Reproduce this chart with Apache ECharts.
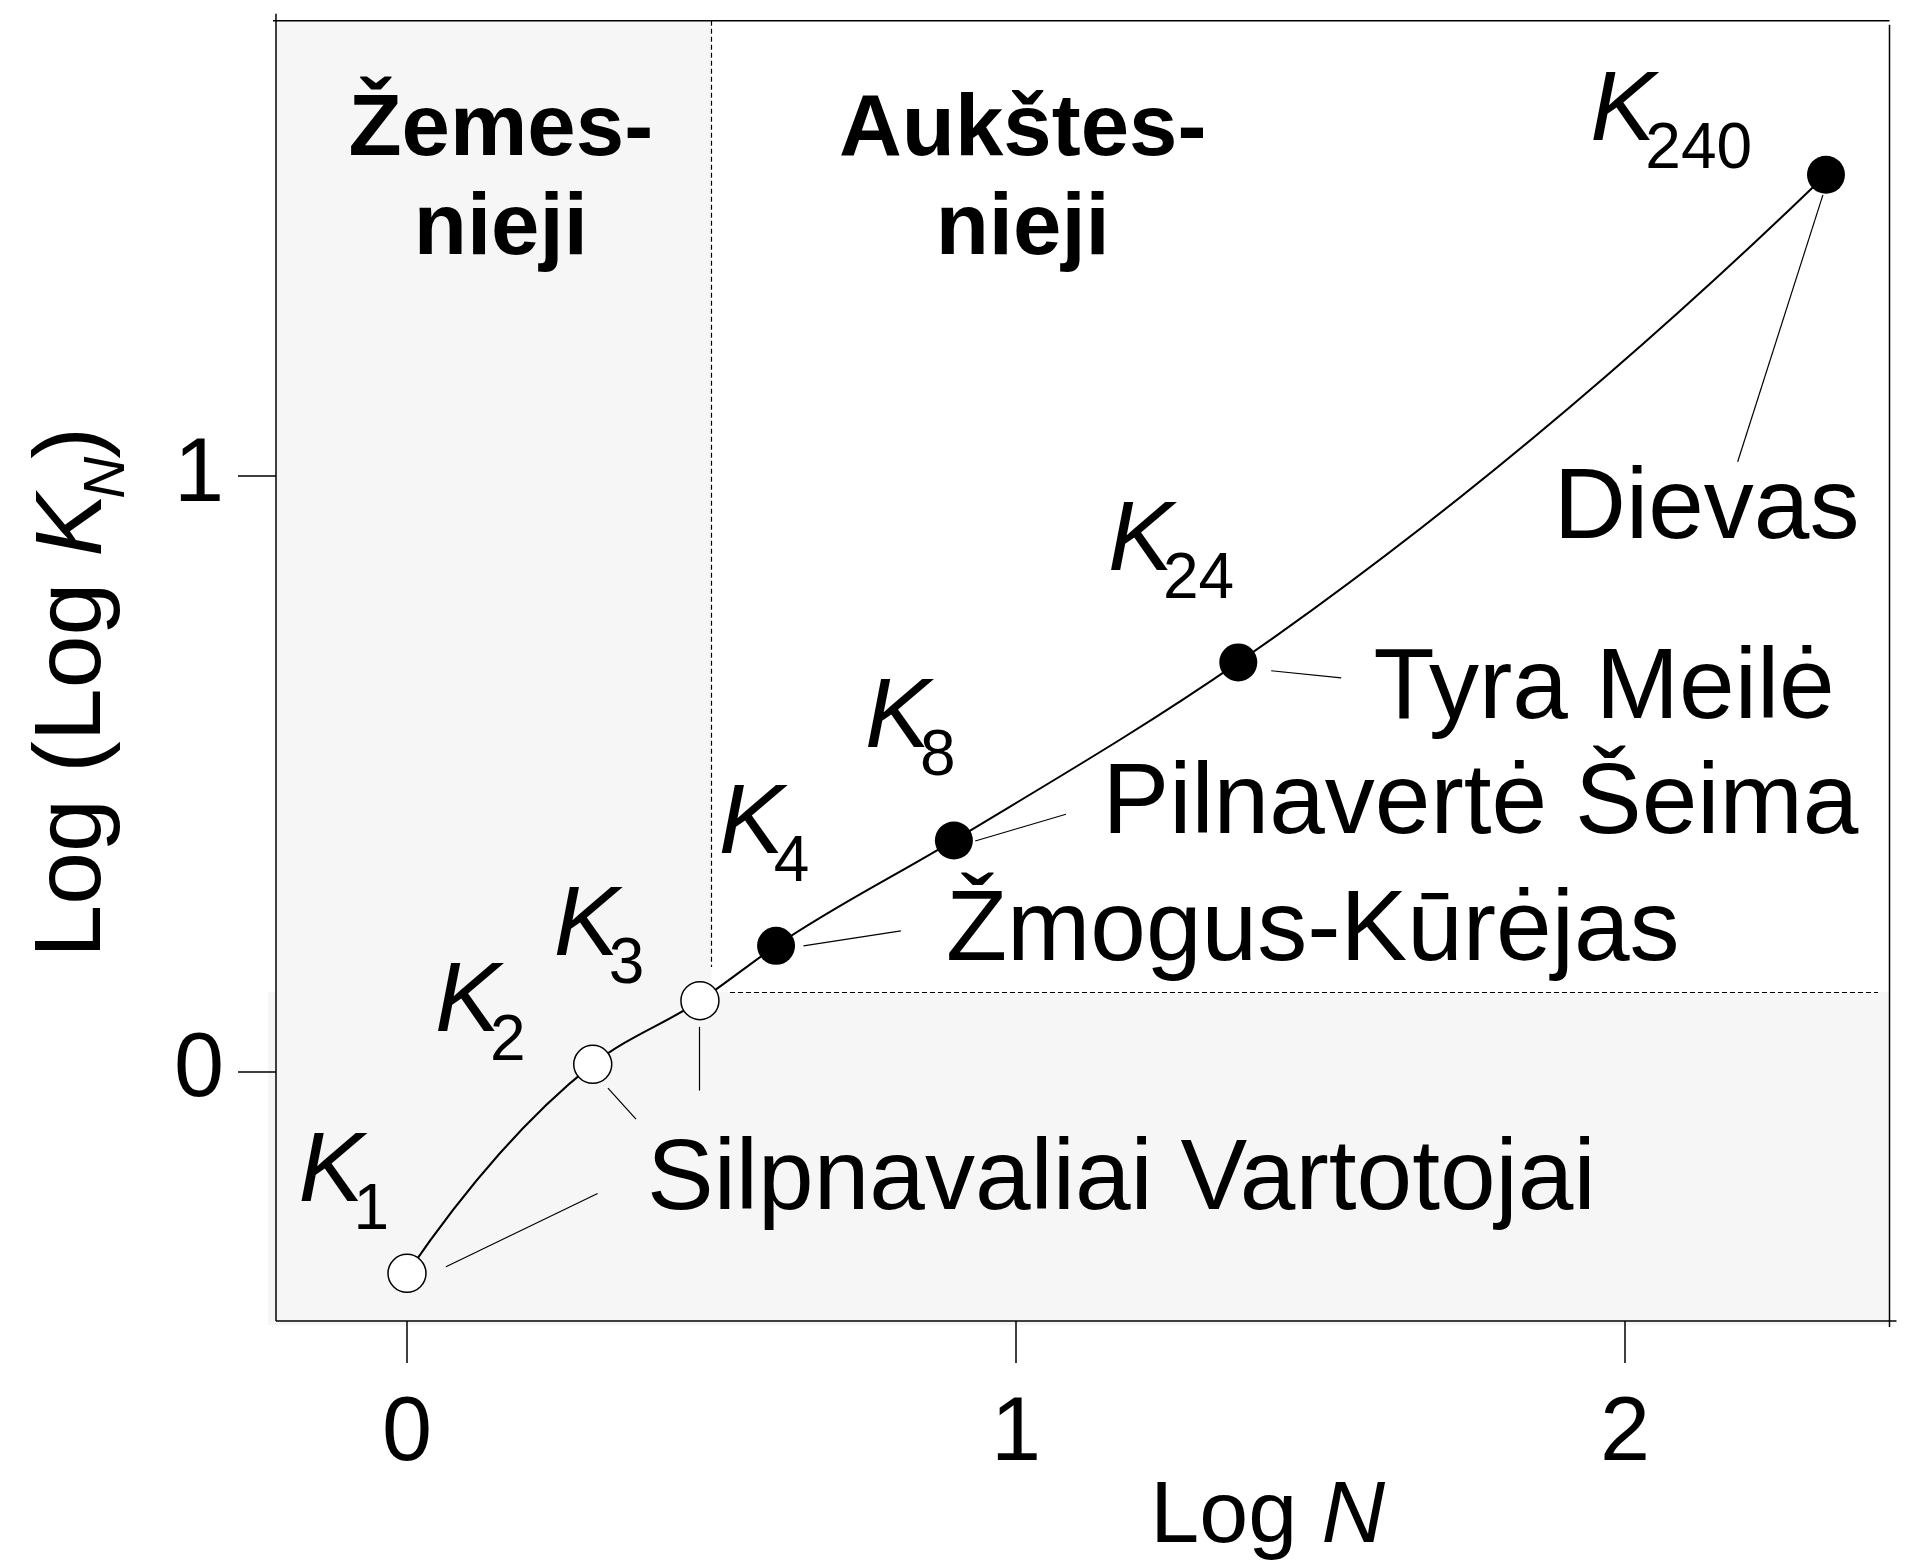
<!DOCTYPE html>
<html>
<head>
<meta charset="utf-8">
<script src="https://cdn.jsdelivr.net/npm/echarts@6/dist/echarts.min.js"></script>
<style>
  html, body { margin: 0; padding: 0; background: #fff; }
  #chart { width: 1911px; height: 1562px; }
</style>
</head>
<body>
<div id="chart"></div>
<script>
// ---- data -------------------------------------------------------------
// level index N of each K_N
const levelIndex = ['1', '2', '3', '4', '8', '24', '240'];
// Log N
const levelX = [0, 0.305, 0.481, 0.606, 0.898, 1.365, 2.330];
// Log (Log K_N)
const levelY = [-0.339, 0.012, 0.119, 0.211, 0.388, 0.687, 1.506];
// the first levels are drawn as hollow markers
const hollowCount = 3;

const xTicks = [0, 1, 2];
const yTicks = [0, 1];
const xRange = [-0.2151, 2.4343];
const yRange = [-0.4190, 1.7646];

// boundary between lower and higher levels
const splitX = 0.5;
const splitY = 0.133;

// group names, and which group each pointer line belongs to
const groupNames = ['Silpnavaliai Vartotojai', 'Žmogus-Kūrėjas', 'Pilnavertė Šeima', 'Tyra Meilė', 'Dievas'];
const pointerGroup = [0, 0, 0, 1, 2, 3, 4];

// annotation anchors, in axis units
const kLabelAt = [[-0.178, -0.229], [0.046, 0.056], [0.241, 0.185], [0.512, 0.356], [0.752, 0.534], [1.151, 0.831], [1.943, 1.553]];
const groupNameAt = [[0.394, -0.242], [0.885, 0.176], [1.142, 0.389], [1.587, 0.582], [1.883, 0.884]];
const pointerFrom = [[0.064, -0.328], [0.330, -0.028], [0.480, 0.075], [0.651, 0.211], [0.933, 0.387], [1.419, 0.673], [2.325, 1.472]];
const pointerTo = [[0.313, -0.205], [0.376, -0.080], [0.480, -0.032], [0.811, 0.236], [1.082, 0.432], [1.534, 0.661], [2.185, 1.024]];
const regionTitles = [['Žemes-', 'nieji'], ['Aukštes-', 'nieji']];
const regionTitleX = [0.154, 1.011];
const regionTitleLineY = [1.528, 1.363];
const xNameAt = [1.2205, -0.8007];
const yNameAt = [-0.4926, 0.1911];

// ---- curve tangents (three-point slopes, parabolic ends) ---------------
const curveSlopes = (function () {
  const n = levelX.length, h = [], s = [], d = [];
  for (let i = 0; i < n - 1; i++) {
    h[i] = levelX[i + 1] - levelX[i];
    s[i] = (levelY[i + 1] - levelY[i]) / h[i];
  }
  for (let i = 1; i < n - 1; i++) {
    d[i] = (h[i] * s[i - 1] + h[i - 1] * s[i]) / (h[i - 1] + h[i]);
  }
  d[0] = 2 * s[0] - d[1];
  d[n - 1] = 2 * s[n - 2] - d[n - 2];
  return d;
})();

// ---- chart ------------------------------------------------------------
const FONT = '"Liberation Sans", Arial, Helvetica, sans-serif';
const INK = '#000';
const SHADE = '#f6f6f6';

const pairs = levelX.map((x, i) => [x, levelY[i]]);

const points = pairs.map((v, i) => ({
  value: v,
  itemStyle: i < hollowCount
    ? { color: '#fff', borderColor: INK, borderWidth: 1.5, opacity: 1 }
    : { color: INK, borderColor: INK, borderWidth: 0, opacity: 1 }
}));

const pointerLines = pointerFrom.map((p, i) => [
  { coord: p, lineStyle: { color: INK, width: 1.2, type: 'solid', opacity: 1 } },
  { coord: pointerTo[i] }
]);

const guideLines = [
  [{ coord: [splitX, yRange[1]], lineStyle: { color: INK, width: 1.2, type: [5, 3], opacity: 1 } }, { coord: [splitX, 0.1755] }],
  [{ coord: [0.5304, splitY], lineStyle: { color: INK, width: 1.2, type: [5, 3], opacity: 1 } }, { coord: [2.4154, splitY] }]
];

// one cubic segment from each point to the next
function renderSegment(params, api) {
  const i = params.dataIndex;
  if (i >= levelX.length - 1) return { type: 'group', children: [] };
  const x0 = api.value(0), y0 = api.value(1);
  const x1 = levelX[i + 1], y1 = levelY[i + 1];
  const h = x1 - x0;
  const p0 = api.coord([x0, y0]);
  const p1 = api.coord([x1, y1]);
  const c0 = api.coord([x0 + h / 3, y0 + curveSlopes[i] * h / 3]);
  const c1 = api.coord([x1 - h / 3, y1 - curveSlopes[i + 1] * h / 3]);
  return {
    type: 'bezierCurve',
    shape: { x1: p0[0], y1: p0[1], x2: p1[0], y2: p1[1], cpx1: c0[0], cpy1: c0[1], cpx2: c1[0], cpy2: c1[1] },
    style: { stroke: INK, lineWidth: 2, fill: null }
  };
}

const option = {
  animation: false,
  backgroundColor: '#fff',
  grid: { left: 276, top: 20.7, right: 21.5, bottom: 241, containLabel: false, outerBoundsMode: 'none' },
  xAxis: {
    type: 'value', min: xRange[0], max: xRange[1],
    axisLine: { show: false, onZero: false },
    splitLine: { show: false },
    axisTick: { show: true, length: 42, customValues: xTicks, lineStyle: { color: INK, width: 1.5 } },
    axisLabel: { customValues: xTicks, fontSize: 90, fontFamily: FONT, color: INK, margin: 69 }
  },
  yAxis: {
    type: 'value', min: yRange[0], max: yRange[1],
    axisLine: { show: false, onZero: false },
    splitLine: { show: false },
    axisTick: { show: true, length: 38, customValues: yTicks, lineStyle: { color: INK, width: 1.5 } },
    axisLabel: { customValues: yTicks, fontSize: 90, fontFamily: FONT, color: INK, margin: 52, padding: [15, 0, 0, 0] }
  },
  series: [
    {
      type: 'custom',
      data: pairs,
      encode: { x: 0, y: 1 },
      renderItem: renderSegment,
      silent: true,
      z: 4
    },
    {
      type: 'scatter',
      data: points,
      symbol: 'circle',
      symbolSize: 38,
      itemStyle: { opacity: 1 },
      emphasis: { disabled: true },
      silent: true,
      z: 5,
      markLine: {
        silent: true,
        symbol: ['none', 'none'],
        label: { show: false },
        emphasis: { disabled: true },
        data: pointerLines.concat(guideLines)
      }
    }
  ]
};

const chart = echarts.init(document.getElementById('chart'));
chart.setOption(option);

// ---- annotations placed through the axes ------------------------------
const toPx = p => chart.convertToPixel({ gridIndex: 0 }, p);
const MID = 0.3465; // distance from 'middle' to alphabetic baseline, in em

function font(size, italic, bold) {
  return (italic ? 'italic ' : '') + (bold ? 'bold ' : '') + size + 'px ' + FONT;
}
// text whose baseline sits at (x, baseline)
function word(x, baseline, text, size, opt) {
  opt = opt || {};
  return {
    type: 'text', x: x, y: baseline - MID * size, z: 20, silent: true,
    style: {
      text: text, font: font(size, opt.italic, opt.bold), fill: INK,
      textAlign: opt.align || 'left', textVerticalAlign: 'middle'
    }
  };
}
function seg(x1, y1, x2, y2) {
  return { type: 'line', z: 15, silent: true, shape: { x1: x1, y1: y1, x2: x2, y2: y2 },
    style: { stroke: INK, lineWidth: 1.5 } };
}

const g = [];
const tl = toPx([xRange[0], yRange[1]]);
const br = toPx([xRange[1], yRange[0]]);
const sp = toPx([splitX, splitY]);

// shaded regions: lower levels column and band
g.push({ type: 'rect', z: -10, silent: true, shape: { x: tl[0], y: tl[1], width: sp[0] - tl[0], height: br[1] - tl[1] }, style: { fill: SHADE } });
g.push({ type: 'rect', z: -10, silent: true, shape: { x: tl[0] - 8, y: sp[1], width: br[0] - tl[0] + 8, height: br[1] - sp[1] + 4 }, style: { fill: SHADE } });

// frame
g.push(seg(tl[0], tl[1] - 7, tl[0], br[1]));
g.push(seg(tl[0], br[1], br[0] + 7, br[1]));
g.push(seg(tl[0] - 3, tl[1], br[0], tl[1]));
g.push(seg(br[0], tl[1] + 4, br[0], br[1] + 6));

// K_N labels
kLabelAt.forEach((p, i) => {
  const q = toPx(p);
  g.push(word(q[0], q[1], 'K', 98, { italic: true }));
  g.push(word(q[0] + 55, q[1] + 26, levelIndex[i], 64));
});

// group names
groupNameAt.forEach((p, i) => {
  const q = toPx(p);
  g.push(word(q[0], q[1], groupNames[i], 100));
});

// region titles
regionTitles.forEach((lines, i) => {
  lines.forEach((t, j) => {
    const q = toPx([regionTitleX[i], regionTitleLineY[j]]);
    g.push(word(q[0], q[1], t, 87, { bold: true, align: 'center' }));
  });
});

// axis names
const xn = toPx(xNameAt);
g.push({
  type: 'text', x: xn[0], y: xn[1] - MID * 88, z: 20, silent: true,
  style: {
    text: '{a|Log }{b|N}', textAlign: 'left', textVerticalAlign: 'middle', fill: INK,
    rich: { a: { font: font(88), fill: INK }, b: { font: font(88, true), fill: INK } }
  }
});
const yn = toPx(yNameAt);
g.push({
  type: 'group', x: yn[0], y: yn[1], rotation: Math.PI / 2, z: 20, silent: true,
  children: [
    word(0, 0, 'Log (Log ', 95),
    word(401, 0, 'K', 95, { italic: true }),
    word(459, 21, 'N', 58, { italic: true }),
    word(499, 0, ')', 95)
  ]
});

chart.setOption({ graphic: { elements: g } });
</script>
</body>
</html>
